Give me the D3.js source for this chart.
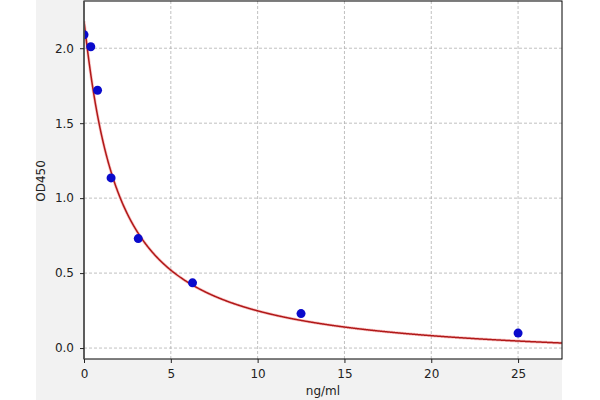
<!DOCTYPE html>
<html><head><meta charset="utf-8">
<script src="https://d3js.org/d3.v7.min.js"></script>
<style>body{margin:0;background:#fff}svg{display:block}</style>
</head><body>
<script>
const concentrations = [0, 0.39, 0.78, 1.56, 3.125, 6.25, 12.5, 25];
const odValues = [2.09, 2.01, 1.72, 1.135, 0.73, 0.435, 0.23, 0.10];
const xTicks = [0, 5, 10, 15, 20, 25];
const yTicks = [0.0, 0.5, 1.0, 1.5, 2.0];
const fitParams = {a: 2.18, b: 1.05, c: 1.956, d: -0.1};
const xLabel = "ng/ml", yLabel = "OD450";

const W = 600, H = 400;
const m = {l: 84, r: 562, t: 1, b: 359};
const svg = d3.select("body").append("svg").attr("width", W).attr("height", H);
svg.append("rect").attr("x", 36).attr("y", 0).attr("width", 526).attr("height", H).attr("fill", "#f2f2f2");
svg.append("rect").attr("x", m.l).attr("y", m.t).attr("width", m.r - m.l).attr("height", m.b - m.t).attr("fill", "#fff");

const x = d3.scaleLinear().domain([0, 27.53]).range([m.l, m.r]);
const y = d3.scaleLinear().domain([-0.073, 2.315]).range([m.b, m.t]);

// grid
const g = svg.append("g");
g.selectAll(".vx").data(xTicks.slice(1)).enter().append("line")
  .attr("x1", d => x(d)).attr("x2", d => x(d)).attr("y1", m.t).attr("y2", m.b)
  .attr("stroke", "#b0b0b0").attr("stroke-width", 0.8).attr("stroke-dasharray", "3,2");
g.selectAll(".hy").data(yTicks).enter().append("line")
  .attr("y1", d => y(d)).attr("y2", d => y(d)).attr("x1", m.l).attr("x2", m.r)
  .attr("stroke", "#b0b0b0").attr("stroke-width", 0.8).attr("stroke-dasharray", "3,2");

// curve
const f = v => fitParams.d + (fitParams.a - fitParams.d) / (1 + Math.pow(v / fitParams.c, fitParams.b));
const xs = d3.range(0, 27.54, 0.02);
const clip = svg.append("clipPath").attr("id", "c").append("rect")
  .attr("x", m.l).attr("y", m.t).attr("width", m.r - m.l).attr("height", m.b - m.t);
const line = d3.line().x(d => x(d)).y(d => y(f(d)));
svg.append("path").datum(xs).attr("d", line).attr("clip-path", "url(#c)")
  .attr("fill", "none").attr("stroke", "#f5a0a0").attr("stroke-width", 3).attr("opacity", 0.6);
svg.append("path").datum(xs).attr("d", line).attr("clip-path", "url(#c)")
  .attr("fill", "none").attr("stroke", "#b01818").attr("stroke-width", 1.5);

// points
svg.append("g").attr("clip-path", "url(#c)").selectAll("circle").data(concentrations).enter().append("circle")
  .attr("cx", d => x(d)).attr("cy", (d, i) => y(odValues[i])).attr("r", 4.5)
  .attr("fill", "#0a0acc");

// frame
svg.append("rect").attr("x", m.l).attr("y", m.t).attr("width", m.r - m.l).attr("height", m.b - m.t)
  .attr("fill", "none").attr("stroke", "#000").attr("stroke-width", 1);
svg.append("line").attr("x1", m.l).attr("x2", m.l).attr("y1", m.t).attr("y2", m.b)
  .attr("stroke", "#555").attr("stroke-width", 1.6);

// axes
const font = "DejaVu Sans, sans-serif";
const xa = svg.append("g").attr("transform", `translate(0,${m.b})`)
  .call(d3.axisBottom(x).tickValues(xTicks).tickFormat(d3.format("d")).tickSize(4).tickPadding(6));
const ya = svg.append("g").attr("transform", `translate(${m.l},0)`)
  .call(d3.axisLeft(y).tickValues(yTicks).tickFormat(d3.format(".1f")).tickSize(4).tickPadding(6));
[xa, ya].forEach(a => {
  a.select(".domain").remove();
  a.selectAll("text").attr("font-family", font).attr("font-size", 12).attr("fill", "#222");
  a.selectAll("line").attr("stroke", "#222");
});
svg.append("text").attr("x", (m.l + m.r) / 2).attr("y", 395).attr("text-anchor", "middle")
  .attr("font-family", font).attr("font-size", 12).attr("fill", "#222").text(xLabel);
svg.append("text").attr("transform", `translate(45,${(m.t + m.b) / 2 + 1}) rotate(-90)`).attr("text-anchor", "middle")
  .attr("font-family", font).attr("font-size", 12).attr("fill", "#222").text(yLabel);
</script>
</body></html>
